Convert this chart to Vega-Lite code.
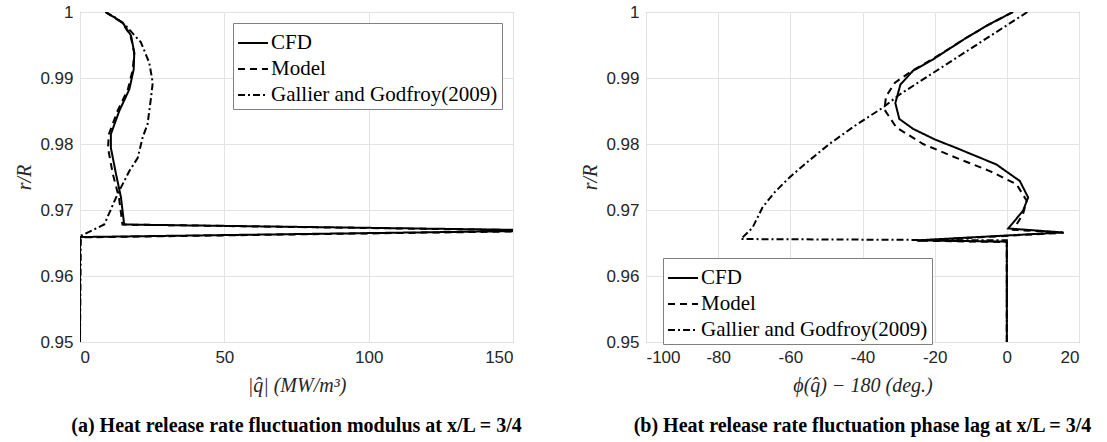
{
  "$schema": "https://vega.github.io/schema/vega-lite/v6.json",
  "background": "white",
  "padding": {"left": 14, "top": 2, "right": 5, "bottom": 0},
  "config": {
    "view": {"stroke": "#808080", "strokeWidth": 1},
    "axis": {
      "labelFont": "Liberation Sans", "labelFontSize": 17, "labelColor": "#262626",
      "titleFont": "Liberation Serif", "titleFontSize": 20, "titleFontWeight": "normal", "titleFontStyle": "italic", "titleColor": "#262626",
      "gridColor": "#e3e3e3", "gridWidth": 1, "domain": false, "ticks": false, "labelPadding": 7
    },
    "legend": {
      "fillColor": "white", "strokeColor": "#808080", "padding": 4,
      "symbolType": "stroke", "symbolStrokeColor": "black", "symbolStrokeWidth": 2, "symbolSize": 900,
      "labelFont": "Liberation Serif", "labelFontSize": 21, "labelColor": "black", "labelOffset": 2,
      "rowPadding": -6, "labelLimit": 400
    },
    "title": {"font": "Liberation Serif", "fontSize": 20, "fontWeight": "bold", "color": "black"}
  },
  "data": {"values": [
    {"p":"a","s":"CFD","i":1,"x":8.8,"r":1.0},
    {"p":"a","s":"CFD","i":2,"x":14.8,"r":0.9984},
    {"p":"a","s":"CFD","i":3,"x":17.7,"r":0.9964},
    {"p":"a","s":"CFD","i":4,"x":18.8,"r":0.9938},
    {"p":"a","s":"CFD","i":5,"x":18.6,"r":0.9913},
    {"p":"a","s":"CFD","i":6,"x":17.1,"r":0.9883},
    {"p":"a","s":"CFD","i":7,"x":13.6,"r":0.985},
    {"p":"a","s":"CFD","i":8,"x":10.7,"r":0.9815},
    {"p":"a","s":"CFD","i":9,"x":10.7,"r":0.9794},
    {"p":"a","s":"CFD","i":10,"x":12.5,"r":0.9754},
    {"p":"a","s":"CFD","i":11,"x":14.2,"r":0.9719},
    {"p":"a","s":"CFD","i":12,"x":15.3,"r":0.9678},
    {"p":"a","s":"CFD","i":13,"x":150,"r":0.967},
    {"p":"a","s":"CFD","i":14,"x":150,"r":0.9668},
    {"p":"a","s":"CFD","i":15,"x":0,"r":0.9659},
    {"p":"a","s":"CFD","i":16,"x":0,"r":0.95},
    {"p":"a","s":"Model","i":1,"x":8.8,"r":1.0},
    {"p":"a","s":"Model","i":2,"x":14.6,"r":0.9984},
    {"p":"a","s":"Model","i":3,"x":17.5,"r":0.9964},
    {"p":"a","s":"Model","i":4,"x":18.8,"r":0.9938},
    {"p":"a","s":"Model","i":5,"x":18.3,"r":0.9913},
    {"p":"a","s":"Model","i":6,"x":16.6,"r":0.9883},
    {"p":"a","s":"Model","i":7,"x":13.0,"r":0.985},
    {"p":"a","s":"Model","i":8,"x":10.0,"r":0.9815},
    {"p":"a","s":"Model","i":9,"x":9.7,"r":0.9794},
    {"p":"a","s":"Model","i":10,"x":11.4,"r":0.9754},
    {"p":"a","s":"Model","i":11,"x":13.5,"r":0.9719},
    {"p":"a","s":"Model","i":12,"x":14.7,"r":0.9678},
    {"p":"a","s":"Model","i":13,"x":150,"r":0.96695},
    {"p":"a","s":"Model","i":14,"x":150,"r":0.96675},
    {"p":"a","s":"Model","i":15,"x":0,"r":0.96585},
    {"p":"a","s":"Model","i":16,"x":0,"r":0.95},
    {"p":"a","s":"Gallier and Godfroy(2009)","i":1,"x":8.8,"r":1.0},
    {"p":"a","s":"Gallier and Godfroy(2009)","i":2,"x":12.8,"r":0.999},
    {"p":"a","s":"Gallier and Godfroy(2009)","i":3,"x":15.9,"r":0.9979},
    {"p":"a","s":"Gallier and Godfroy(2009)","i":4,"x":21.1,"r":0.9954},
    {"p":"a","s":"Gallier and Godfroy(2009)","i":5,"x":24.0,"r":0.9923},
    {"p":"a","s":"Gallier and Godfroy(2009)","i":6,"x":25.2,"r":0.9893},
    {"p":"a","s":"Gallier and Godfroy(2009)","i":7,"x":24.6,"r":0.987},
    {"p":"a","s":"Gallier and Godfroy(2009)","i":8,"x":23.4,"r":0.983},
    {"p":"a","s":"Gallier and Godfroy(2009)","i":9,"x":21.7,"r":0.981},
    {"p":"a","s":"Gallier and Godfroy(2009)","i":10,"x":20.0,"r":0.9779},
    {"p":"a","s":"Gallier and Godfroy(2009)","i":11,"x":17.1,"r":0.9759},
    {"p":"a","s":"Gallier and Godfroy(2009)","i":12,"x":13.0,"r":0.9724},
    {"p":"a","s":"Gallier and Godfroy(2009)","i":13,"x":8.4,"r":0.9678},
    {"p":"a","s":"Gallier and Godfroy(2009)","i":14,"x":0.3,"r":0.9661},
    {"p":"a","s":"Gallier and Godfroy(2009)","i":15,"x":0,"r":0.95},
    {"p":"b","s":"CFD","i":1,"x":1.7,"r":1.0},
    {"p":"b","s":"CFD","i":2,"x":-5,"r":0.9981},
    {"p":"b","s":"CFD","i":3,"x":-11.2,"r":0.9961},
    {"p":"b","s":"CFD","i":4,"x":-20.5,"r":0.9928},
    {"p":"b","s":"CFD","i":5,"x":-26,"r":0.9911},
    {"p":"b","s":"CFD","i":6,"x":-29.5,"r":0.989},
    {"p":"b","s":"CFD","i":7,"x":-30.9,"r":0.9862},
    {"p":"b","s":"CFD","i":8,"x":-29.8,"r":0.9838},
    {"p":"b","s":"CFD","i":9,"x":-26,"r":0.9823},
    {"p":"b","s":"CFD","i":10,"x":-20,"r":0.9807},
    {"p":"b","s":"CFD","i":11,"x":-14,"r":0.9794},
    {"p":"b","s":"CFD","i":12,"x":-2.9,"r":0.9769},
    {"p":"b","s":"CFD","i":13,"x":3.6,"r":0.9744},
    {"p":"b","s":"CFD","i":14,"x":5.9,"r":0.9719},
    {"p":"b","s":"CFD","i":15,"x":4.5,"r":0.9699},
    {"p":"b","s":"CFD","i":16,"x":0.4,"r":0.9672},
    {"p":"b","s":"CFD","i":17,"x":15.6,"r":0.9666},
    {"p":"b","s":"CFD","i":18,"x":-25,"r":0.9654},
    {"p":"b","s":"CFD","i":19,"x":0,"r":0.9652},
    {"p":"b","s":"CFD","i":20,"x":0,"r":0.95},
    {"p":"b","s":"Model","i":1,"x":1.7,"r":1.0},
    {"p":"b","s":"Model","i":2,"x":-5,"r":0.9981},
    {"p":"b","s":"Model","i":3,"x":-11.2,"r":0.9961},
    {"p":"b","s":"Model","i":4,"x":-20.5,"r":0.9929},
    {"p":"b","s":"Model","i":5,"x":-26.5,"r":0.991},
    {"p":"b","s":"Model","i":6,"x":-31,"r":0.9893},
    {"p":"b","s":"Model","i":7,"x":-33.5,"r":0.9872},
    {"p":"b","s":"Model","i":8,"x":-33.9,"r":0.9852},
    {"p":"b","s":"Model","i":9,"x":-30.6,"r":0.9825},
    {"p":"b","s":"Model","i":10,"x":-23.2,"r":0.98},
    {"p":"b","s":"Model","i":11,"x":-14,"r":0.9779},
    {"p":"b","s":"Model","i":12,"x":-4.7,"r":0.9759},
    {"p":"b","s":"Model","i":13,"x":2.7,"r":0.9739},
    {"p":"b","s":"Model","i":14,"x":5.5,"r":0.9714},
    {"p":"b","s":"Model","i":15,"x":4.5,"r":0.9694},
    {"p":"b","s":"Model","i":16,"x":1.8,"r":0.967},
    {"p":"b","s":"Model","i":17,"x":15.8,"r":0.96655},
    {"p":"b","s":"Model","i":18,"x":-25,"r":0.96535},
    {"p":"b","s":"Model","i":19,"x":0,"r":0.96515},
    {"p":"b","s":"Model","i":20,"x":0,"r":0.95},
    {"p":"b","s":"Gallier and Godfroy(2009)","i":1,"x":5.7,"r":1.0},
    {"p":"b","s":"Gallier and Godfroy(2009)","i":2,"x":-29.7,"r":0.9875},
    {"p":"b","s":"Gallier and Godfroy(2009)","i":3,"x":-34.4,"r":0.9855},
    {"p":"b","s":"Gallier and Godfroy(2009)","i":4,"x":-42,"r":0.9828},
    {"p":"b","s":"Gallier and Godfroy(2009)","i":5,"x":-49.2,"r":0.98},
    {"p":"b","s":"Gallier and Godfroy(2009)","i":6,"x":-55,"r":0.9774},
    {"p":"b","s":"Gallier and Godfroy(2009)","i":7,"x":-60.3,"r":0.9749},
    {"p":"b","s":"Gallier and Godfroy(2009)","i":8,"x":-64.5,"r":0.9726},
    {"p":"b","s":"Gallier and Godfroy(2009)","i":9,"x":-67.7,"r":0.9704},
    {"p":"b","s":"Gallier and Godfroy(2009)","i":10,"x":-70.5,"r":0.9673},
    {"p":"b","s":"Gallier and Godfroy(2009)","i":11,"x":-73.7,"r":0.9656},
    {"p":"b","s":"Gallier and Godfroy(2009)","i":12,"x":0,"r":0.9654},
    {"p":"b","s":"Gallier and Godfroy(2009)","i":13,"x":0,"r":0.95}
  ]},
  "bounds": "flush",
  "spacing": 133,
  "resolve": {"scale": {"strokeDash": "independent"}, "legend": {"strokeDash": "independent"}},
  "hconcat": [
    {
      "width": 433, "height": 330,
      "title": {"text": "(a) Heat release rate fluctuation modulus at x/L = 3/4", "orient": "bottom", "anchor": "middle", "offset": 21},
      "transform": [{"filter": "datum.p == 'a'"}],
      "mark": {"type": "line", "color": "black", "strokeWidth": 2, "clip": true},
      "encoding": {
        "x": {"field": "x", "type": "quantitative", "scale": {"domain": [0, 150], "nice": false, "zero": false},
              "axis": {"values": [0, 50, 100, 150], "title": "|q̂| (MW/m³)", "titlePadding": 10}},
        "y": {"field": "r", "type": "quantitative", "scale": {"domain": [0.95, 1], "nice": false, "zero": false},
              "axis": {"values": [0.95, 0.96, 0.97, 0.98, 0.99, 1], "format": ".2~f", "title": "r/R", "titlePadding": 5}},
        "strokeDash": {"field": "s", "type": "nominal",
              "scale": {"domain": ["CFD", "Model", "Gallier and Godfroy(2009)"], "range": [[1, 0], [7, 5], [7, 3, 2, 3]]},
              "legend": {"title": null, "orient": "none", "legendX": 153, "legendY": 11}},
        "order": {"field": "i", "type": "quantitative"}
      }
    },
    {
      "width": 433, "height": 330,
      "title": {"text": "(b) Heat release rate fluctuation phase lag at x/L = 3/4", "orient": "bottom", "anchor": "middle", "offset": 21},
      "transform": [{"filter": "datum.p == 'b'"}],
      "mark": {"type": "line", "color": "black", "strokeWidth": 2, "clip": true},
      "encoding": {
        "x": {"field": "x", "type": "quantitative", "scale": {"domain": [-100, 20], "nice": false, "zero": false},
              "axis": {"values": [-100, -80, -60, -40, -20, 0, 20], "labelExpr": "replace(datum.label, '−', '-')", "title": "ϕ(q̂) − 180 (deg.)", "titlePadding": 10}},
        "y": {"field": "r", "type": "quantitative", "scale": {"domain": [0.95, 1], "nice": false, "zero": false},
              "axis": {"values": [0.95, 0.96, 0.97, 0.98, 0.99, 1], "format": ".2~f", "title": "r/R", "titlePadding": 5}},
        "strokeDash": {"field": "s", "type": "nominal",
              "scale": {"domain": ["CFD", "Model", "Gallier and Godfroy(2009)"], "range": [[1, 0], [7, 5], [7, 3, 2, 3]]},
              "legend": {"title": null, "orient": "none", "legendX": 17, "legendY": 246}},
        "order": {"field": "i", "type": "quantitative"}
      }
    }
  ]
}
